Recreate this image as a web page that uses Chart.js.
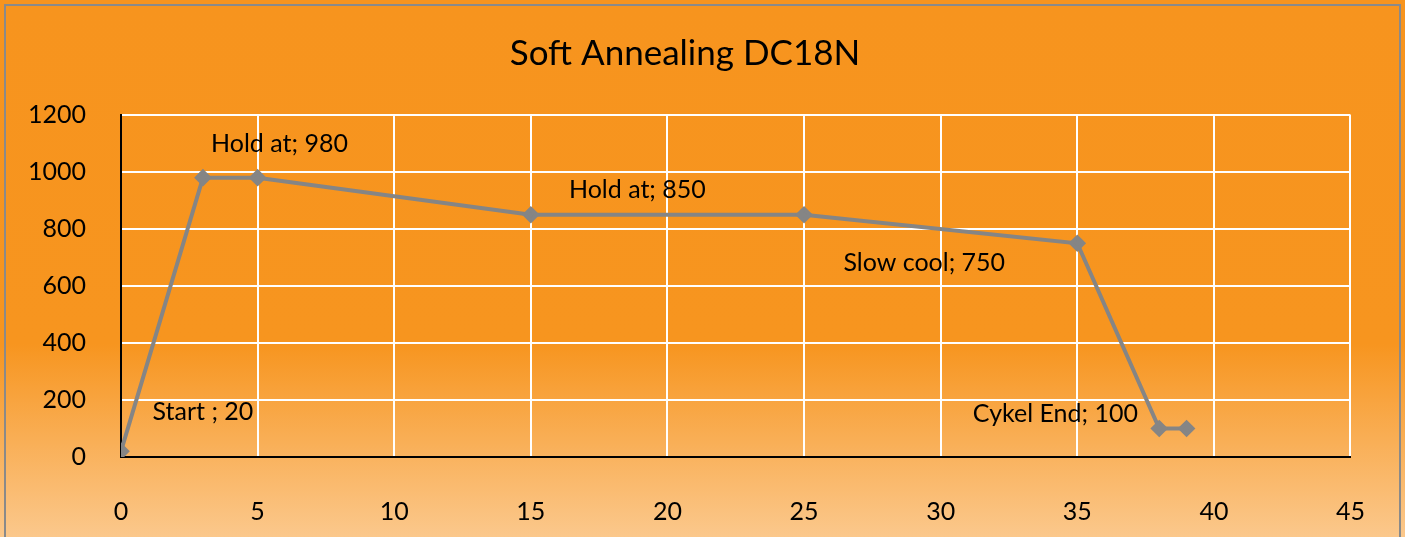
<!DOCTYPE html>
<html>
<head>
<meta charset="utf-8">
<script src="https://cdn.jsdelivr.net/npm/chart.js@4/dist/chart.umd.min.js"></script>
<style>
  html, body { margin: 0; padding: 0; background: #fff; }
  #wrap { position: relative; width: 1405px; height: 537px; }
</style>
</head>
<body>
<div id="wrap"><canvas id="c" width="1405" height="537"></canvas></div>
<script>
// time (x) and temperature (y) of the cycle
const times = [0, 3, 5, 15, 25, 35, 38, 39];
const temps = [20, 980, 980, 850, 850, 750, 100, 100];

// free text labels and where they sit (data units)
const noteTexts = ['Start ; 20', 'Hold at; 980', 'Hold at; 850', 'Slow cool; 750', 'Cykel End; 100'];
const noteX = [3.0, 5.8, 18.9, 29.4, 34.2];
const noteY = [158, 1100, 937, 680, 150];

const chartTitle = 'Soft Annealing DC18N';
const fontFam = 'Lato, "Open Sans", sans-serif';

const bgPlugin = {
    id: 'bg',
    beforeDraw: (chart) => {
        const ctx = chart.ctx;
        const h = chart.height;
        const grad = ctx.createLinearGradient(0, 0, 0, h);
        grad.addColorStop(0, '#f7941e');
        grad.addColorStop(0.64, '#f7951f');
        grad.addColorStop(1, '#fbc88c');
        ctx.save();
        ctx.fillStyle = grad;
        ctx.fillRect(0, 0, chart.width, h);
        ctx.strokeStyle = '#8a8a8a';
        ctx.lineWidth = 2;
        ctx.strokeRect(5, 5, 1395, h + 10);
        ctx.restore();
    }
};

const notesPlugin = {
    id: 'notes',
    afterDatasetsDraw: (chart) => {
        const ctx = chart.ctx;
        const xs = chart.scales.x, ys = chart.scales.y;
        ctx.save();
        ctx.font = '25px ' + fontFam;
        ctx.fillStyle = '#000';
        ctx.textAlign = 'center';
        ctx.textBaseline = 'middle';
        noteTexts.forEach((t, i) => {
            ctx.fillText(t, xs.getPixelForValue(noteX[i]), ys.getPixelForValue(noteY[i]));
        });
        ctx.restore();
    }
};

const gridColor = (c) => c.tick && c.tick.value === 0 ? 'rgba(0,0,0,0)' : '#ffffff';

new Chart(document.getElementById('c'), {
    type: 'scatter',
    data: {
        datasets: [{
            data: times.map((t, i) => ({ x: t, y: temps[i] })),
            showLine: true,
            borderColor: '#858585',
            backgroundColor: '#858585',
            borderWidth: 4,
            pointStyle: 'rectRot',
            pointRadius: 6,
            pointHoverRadius: 6
        }]
    },
    plugins: [bgPlugin, notesPlugin],
    options: {
        responsive: false,
        animation: false,
        layout: { padding: { left: 10, right: 45, top: 0, bottom: 0 } },
        plugins: {
            legend: { display: false },
            tooltip: { enabled: false },
            title: {
                display: true,
                text: chartTitle,
                color: '#000',
                font: { family: fontFam, size: 35, weight: 'normal' },
                padding: { top: 33, bottom: 40 }
            }
        },
        scales: {
            x: {
                type: 'linear',
                min: 0, max: 45,
                ticks: { stepSize: 5, color: '#000', padding: 40, font: { family: fontFam, size: 25 } },
                grid: { color: gridColor, lineWidth: 2, drawTicks: false },
                border: { color: '#000', width: 2 },
                afterFit: (s) => { s.height = 80; }
            },
            y: {
                min: 0, max: 1200,
                ticks: {
                    stepSize: 200, color: '#000', padding: 35,
                    font: { family: fontFam, size: 25 },
                    callback: (v) => String(v)
                },
                grid: { color: gridColor, lineWidth: 2, drawTicks: false },
                border: { color: '#000', width: 2 },
                afterFit: (s) => { s.width = 111; }
            }
        }
    }
});
</script>
</body>
</html>
